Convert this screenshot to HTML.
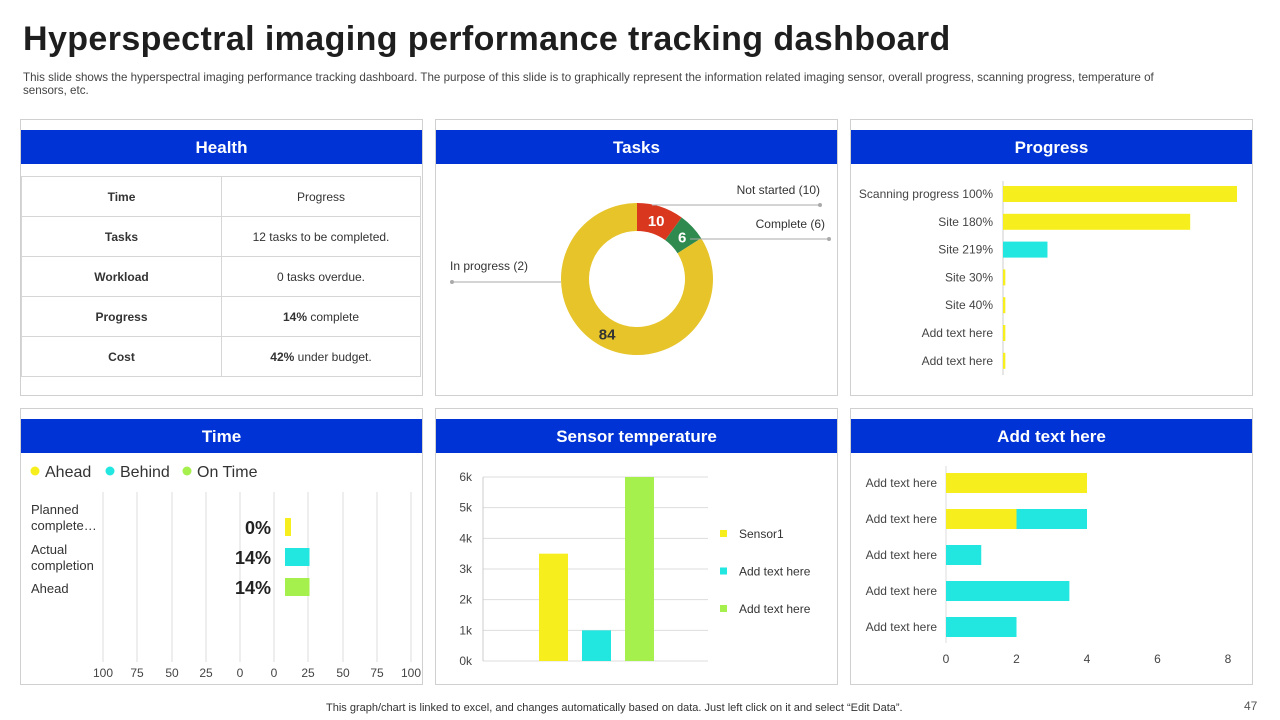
<!DOCTYPE html>
<html><head><meta charset="utf-8">
<style>
*{margin:0;padding:0;box-sizing:border-box}
body{width:1280px;height:720px;background:#fff;font-family:"Liberation Sans",sans-serif;position:relative;overflow:hidden;color:#333}
.abs{position:absolute}
.panel{position:absolute;border:1px solid #d0d0d0;background:#fff}
.hdr{position:absolute;left:0;right:0;height:34px;background:#0033d6;color:#fff;font-weight:bold;font-size:17px;text-align:center;line-height:36px}
table{border-collapse:collapse;position:absolute;left:0;top:56px;width:400px}
td{border:1px solid #d6d6d6;height:40px;font-size:12px;text-align:center;color:#333}
td.k{font-weight:bold;width:200px}
</style></head><body>
<div class="abs" style="left:23px;top:20px;font-size:34px;font-weight:bold;color:#1e1e1e;letter-spacing:0.4px">Hyperspectral imaging performance tracking dashboard</div>
<div class="abs" style="left:23px;top:71px;width:1160px;font-size:11.6px;line-height:13px;color:#444">This slide shows the hyperspectral imaging performance tracking dashboard. The purpose of this slide is to graphically represent the information related imaging sensor, overall progress, scanning progress, temperature of sensors, etc.</div>

<div class="panel" style="left:20px;top:119px;width:403px;height:277px">
<div class="hdr" style="top:10px">Health</div>
<table>
<tr><td class="k">Time</td><td>Progress</td></tr>
<tr><td class="k">Tasks</td><td>12 tasks to be completed.</td></tr>
<tr><td class="k">Workload</td><td>0 tasks overdue.</td></tr>
<tr><td class="k">Progress</td><td><b>14%</b> complete</td></tr>
<tr><td class="k">Cost</td><td><b>42%</b> under budget.</td></tr>
</table>
</div>

<div class="panel" style="left:435px;top:119px;width:403px;height:277px">
<div class="hdr" style="top:10px">Tasks</div>
</div>
<div class="panel" style="left:850px;top:119px;width:403px;height:277px">
<div class="hdr" style="top:10px">Progress</div>
</div>
<div class="panel" style="left:20px;top:408px;width:403px;height:277px">
<div class="hdr" style="top:10px">Time</div>
</div>
<div class="panel" style="left:435px;top:408px;width:403px;height:277px">
<div class="hdr" style="top:10px">Sensor temperature</div>
</div>
<div class="panel" style="left:850px;top:408px;width:403px;height:277px">
<div class="hdr" style="top:10px">Add text here</div>
</div>

<svg id="svg" class="abs" style="left:0;top:0" width="1280" height="720" font-family="Liberation Sans, sans-serif"></svg>

<div class="abs" style="left:326px;top:702px;font-size:11px;color:#333">This graph/chart is linked to excel,  and changes automatically based on data. Just left click on it and select “Edit Data”.</div>
<div class="abs" style="left:1244px;top:699px;font-size:12px;color:#555">47</div>

<script>
const donutLabels=["Not started","Complete","In progress"];
const donutValues=[10,6,84];
const donutLegendCounts=[10,6,2];
const progCats=["Scanning progress 100%","Site 180%","Site 219%","Site 30%","Site 40%","Add text here","Add text here"];
const progValues=[100,80,19,1,1,1,1];
const timeCats=["Planned complete…","Actual completion","Ahead"];
const timeValues=[0,14,14];
const timeTicks=["100","75","50","25","0","0","25","50","75","100"];
const sensorCats=["Sensor1","Add text here","Add text here"];
const sensorValues=[3500,1000,6000];
const sensorTicks=[0,1000,2000,3000,4000,5000,6000];
const addCats=["Add text here","Add text here","Add text here","Add text here","Add text here"];
const addYellow=[4,2,0,0,0];
const addCyan=[0,2,1,3.5,2];
const addTicks=[0,2,4,6,8];

const S=document.getElementById('svg');
const NS='http://www.w3.org/2000/svg';
function mk(t,a,txt){const e=document.createElementNS(NS,t);for(const k in a)e.setAttribute(k,a[k]);if(txt!==undefined)e.textContent=txt;S.appendChild(e);return e;}
const YEL='#f7ef1d',CYA='#22e6e0',GRN='#a6f04d';

// Donut
(function(){
 const cx=637,cy=279,R=76,r=48;const cols=['#d9381e','#2f8a50','#e6c42a'];
 const tot=donutValues.reduce((a,b)=>a+b,0);let a0=0;
 donutValues.forEach((v,i)=>{
  const a1=a0+v/tot*2*Math.PI;
  const p=(ang,rad)=>[cx+rad*Math.sin(ang),cy-rad*Math.cos(ang)];
  const [x1,y1]=p(a0,R),[x2,y2]=p(a1,R),[x3,y3]=p(a1,r),[x4,y4]=p(a0,r);
  const lg=(a1-a0)>Math.PI?1:0;
  const e=mk('path',{d:`M${x1},${y1}A${R},${R} 0 ${lg} 1 ${x2},${y2}L${x3},${y3}A${r},${r} 0 ${lg} 0 ${x4},${y4}Z`,fill:cols[i]});
  
  
  const am=(a0+a1)/2;const [lx,ly]=p(am,i==2?62:(R+r)/2);
  const t=mk('text',{x:lx,y:ly+6,'text-anchor':'middle','font-size':15,'font-weight':'bold',fill:i==2?'#333':'#fff'},donutValues[i]);
  
  
  a0=a1;
 });
 const L=[[652,205,820,205,820,190,'end'],[690,239,829,239,825,224,'end'],[561,282,452,282,450,266,'start']];
 L.forEach((l,i)=>{
  mk('line',{x1:l[0],y1:l[1],x2:l[2],y2:l[3],stroke:'#aaa','stroke-width':1});
  mk('circle',{cx:l[2],cy:l[3],r:2,fill:'#aaa'});
  const t=mk('text',{x:l[4],y:l[5]+4,'text-anchor':l[6],'font-size':12,fill:'#333'},`${donutLabels[i]} (${donutLegendCounts[i]})`);
  
  
 });
})();

// Progress
(function(){
 const x0=1003,xs=v=>x0+v*2.34;const y0=194,dy=27.8;
 mk('line',{x1:x0,y1:181,x2:x0,y2:375,stroke:'#ccc'});
 progCats.forEach((c,i)=>{
  const y=y0+i*dy;
  const t=mk('text',{x:993,y:y+4,'text-anchor':'end','font-size':12,fill:'#444'},c);
  
  
  const b=mk('rect',{x:x0,y:y-8,width:xs(progValues[i])-x0,height:16,fill:i==2?CYA:YEL});
  
  
 });
})();

// Time
(function(){
 [[YEL,'Ahead',31],[CYA,'Behind',106],[GRN,'On Time',183]].forEach(l=>{
  mk('circle',{cx:l[2]+4,cy:471,r:4.5,fill:l[0]});
  const t=mk('text',{x:l[2]+14,y:477,'font-size':16,fill:'#333'},l[1]);
  
  
 });
 const tx=[103,137,172,206,240,274,308,343,377,411];
 timeTicks.forEach((tk,i)=>{
  mk('line',{x1:tx[i],y1:492,x2:tx[i],y2:662,stroke:'#ddd'});
  const t=mk('text',{x:tx[i],y:677,'text-anchor':'middle','font-size':12,fill:'#444'},tk);
  
  
 });
 const xs=v=>285+Math.max(v*1.75,6);const ys=[527,557,587];const cols=[YEL,CYA,GRN];
 const lines=[["Planned","complete…"],["Actual","completion"],["Ahead"]];
 const catBase=[514,554,593];
 lines.forEach((ls,i)=>{ls.forEach((s,j)=>{const t=mk('text',{x:31,y:catBase[i]+j*16,'font-size':13,fill:'#333'},s);});});
 timeValues.forEach((v,i)=>{
  const b=mk('rect',{x:285,y:ys[i]-9,width:xs(v)-285,height:18,fill:cols[i]});
  
  
  const t=mk('text',{x:271,y:ys[i]+7,'text-anchor':'end','font-size':18,'font-weight':'bold',fill:'#222'},v+'%');
  
  
 });
})();

// Sensor
(function(){
 const ys=v=>661-v/6000*184;const xL=483,xR=708;
 sensorTicks.forEach(v=>{
  mk('line',{x1:xL,y1:ys(v),x2:xR,y2:ys(v),stroke:'#ddd'});
  const t=mk('text',{x:472,y:ys(v)+4,'text-anchor':'end','font-size':12,fill:'#444'},v==0?'0k':(v/1000)+'k');
  
  
 });
 mk('line',{x1:xL,y1:477,x2:xL,y2:661,stroke:'#ccc'});
 const cols=[YEL,CYA,GRN];const bw=29,step=43,bx=539;
 sensorValues.forEach((v,i)=>{
  const b=mk('rect',{x:bx+i*step,y:ys(v),width:bw,height:661-ys(v),fill:cols[i]});
  
  
 });
 sensorCats.forEach((c,i)=>{
  mk('rect',{x:720,y:530+i*37.5,width:7,height:7,fill:cols[i]});
  const t=mk('text',{x:739,y:538+i*37.5,'font-size':12,fill:'#333'},c);
  
  
 });
})();

// Add text chart
(function(){
 const xs=v=>946+v*35.25;const y0=483,dy=36;
 addTicks.forEach(v=>{
  const t=mk('text',{x:xs(v),y:663,'text-anchor':'middle','font-size':12,fill:'#444'},v);
  
  
 });
 mk('line',{x1:946,y1:466,x2:946,y2:643,stroke:'#ddd'});
 addCats.forEach((c,i)=>{
  const y=y0+i*dy;
  const t=mk('text',{x:937,y:y+4,'text-anchor':'end','font-size':12,fill:'#444'},c);
  
  
  if(addYellow[i]>0){const b=mk('rect',{x:xs(0),y:y-10,width:xs(addYellow[i])-xs(0),height:20,fill:YEL});}
  if(addCyan[i]>0){const b=mk('rect',{x:xs(addYellow[i]),y:y-10,width:xs(addCyan[i])-xs(0),height:20,fill:CYA});}
 });
})();
</script>
</body></html>
